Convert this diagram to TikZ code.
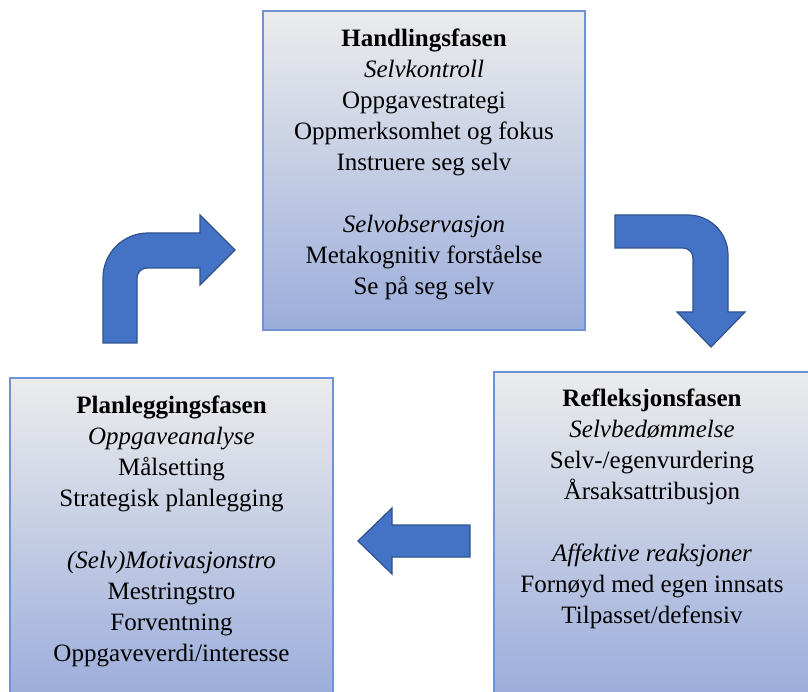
\documentclass[tikz,border=0pt]{standalone}
\usepackage{fontspec}
\setmainfont{Liberation Serif}
\definecolor{boxtop}{HTML}{ECECEC}
\definecolor{boxbot}{HTML}{9BADDB}
\definecolor{boxline}{HTML}{7092D6}
\definecolor{arrfill}{HTML}{4472C4}
\definecolor{arrline}{HTML}{2F528F}
\tikzset{
  phasebox/.style={rectangle, draw=boxline, line width=1.8pt, top color=boxtop, bottom color=boxbot, inner sep=0pt},
  phasetext/.style={anchor=north, align=center, inner sep=0pt, font=\fontsize{25}{31}\selectfont},
  blockarrow/.style={fill=arrfill, draw=arrline, line width=1.2pt, line join=miter}
}
\begin{document}
\begin{tikzpicture}[x=1pt,y=1pt]
\useasboundingbox (0,0) rectangle (808,691);
\clip (0,0) rectangle (808,691);
\fill[white] (0,0) rectangle (808,691);
% boxes
\node[phasebox, minimum width=322pt, minimum height=319pt] (hand) at (424,520.5) {};
\node[phasebox, minimum width=323pt, minimum height=319pt] (plan) at (171.5,153.5) {};
\node[phasebox, minimum width=318pt, minimum height=321pt] (refl) at (653,158.5) {};
% texts
\node[phasetext] (handtxt) at (424,662) {\textbf{Handlingsfasen}\\ \textit{Selvkontroll}\\ Oppgavestrategi\\ Oppmerksomhet og fokus\\ Instruere seg selv\\[31pt] \textit{Selvobservasjon}\\ Metakognitiv forståelse\\ Se på seg selv};
\node[phasetext] (plantxt) at (171.5,295) {\textbf{Planleggingsfasen}\\ \textit{Oppgaveanalyse}\\ Målsetting\\ Strategisk planlegging\\[31pt] \textit{(Selv)Motivasjonstro}\\ Mestringstro\\ Forventning\\ Oppgaveverdi/interesse};
\node[phasetext] (refltxt) at (652,302) {\textbf{Refleksjonsfasen}\\ \textit{Selvbedømmelse}\\ Selv-/egenvurdering\\ Årsaksattribusjon\\[31pt] \textit{Affektive reaksjoner}\\ Fornøyd med egen innsats\\ Tilpasset/defensiv};
% arrows
\draw[blockarrow] (103,348) -- (103,413) arc[start angle=180,end angle=90,radius=45] -- (200,458) -- (200,476) -- (235,441) -- (200,406) -- (200,423) -- (147,423) arc[start angle=90,end angle=180,radius=10] -- (137,348) -- cycle;
\draw[blockarrow] (615,476) -- (688,476) arc[start angle=90,end angle=0,radius=40] -- (728,379) -- (745,379) -- (711,344) -- (677,379) -- (693,379) -- (693,433) arc[start angle=0,end angle=90,radius=10] -- (615,443) -- cycle;
\draw[blockarrow] (470,166) -- (392,166) -- (392,183) -- (358,150) -- (392,117) -- (392,134) -- (470,134) -- cycle;
\end{tikzpicture}
\end{document}
